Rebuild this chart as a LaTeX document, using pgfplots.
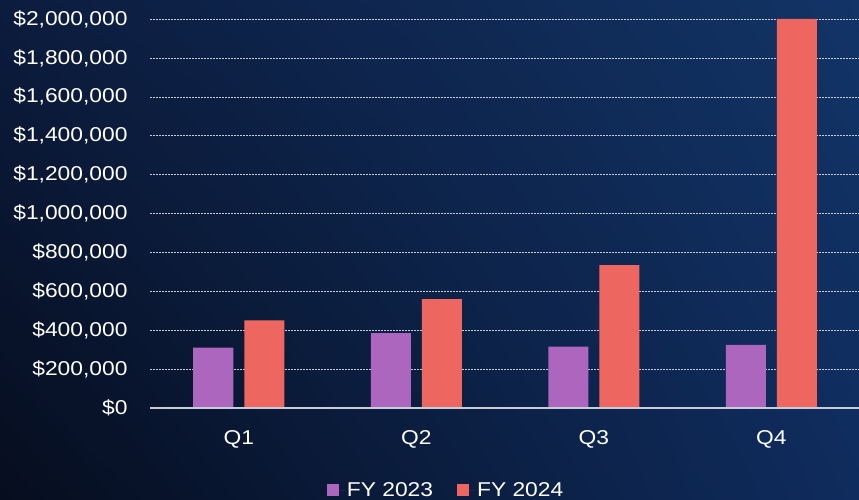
\documentclass[border=0pt]{standalone}
\usepackage{pgfplots}
\pgfplotsset{compat=1.18}
\usetikzlibrary{shadings}
\usepackage{fontspec}
\setmainfont{Liberation Sans}[FakeStretch=1.14]
\definecolor{fyA}{HTML}{AC66BE}
\definecolor{fyB}{HTML}{EE6660}
\definecolor{bgUL}{HTML}{0C1C3E}
\definecolor{bgUR}{HTML}{123466}
\definecolor{bgLL}{HTML}{060D1E}
\definecolor{bgLR}{HTML}{0F2C5E}
\definecolor{gridc}{HTML}{C8CCD6}

\begin{document}
\begin{tikzpicture}
\shade[upper left=bgUL, upper right=bgUR, lower left=bgLL, lower right=bgLR]
    (0pt,0pt) rectangle (859pt,500pt);
\begin{axis}[
    at={(150pt,92pt)}, anchor=south west,
    scale only axis,
    width=710pt, height=389pt,
    ybar, bar width=40pt,
    xmin=-0.5, xmax=3.5,
    ymin=0, ymax=2000000,
    xtick={0,1,2,3},
    xticklabels={Q1,Q2,Q3,Q4},
    ytick={0,200000,...,2000000},
    yticklabel={\$\pgfmathprintnumber[fixed,1000 sep={,}]{\tick}},
    scaled y ticks=false,
    /pgf/number format/assume math mode=true,
    tick label style={font=\fontsize{20}{22}\selectfont, text=white},
    yticklabel style={xshift=-19pt},
    xticklabel style={yshift=-19pt},
    major tick length=0pt,
    axis line style={draw=none},
    ymajorgrids,
    grid style={gridc, line width=0.5pt, dash pattern=on 2pt off 1pt},
    legend style={at={(0.417,-0.211)}, anchor=center, draw=none, fill=none,
        text=white, font=\fontsize{20}{22}\selectfont,
        legend columns=2, column sep=0pt,
        /tikz/every even column/.style={column sep=22pt}},
    legend image code/.code={\fill[#1] (0pt,-6pt) rectangle (12pt,6pt);
        \path (0pt,0pt) -- (18pt,0pt);},
    clip=false,
]
\addplot[draw=none, fill=fyA, bar shift=-25.5pt] coordinates {
    (0,310000) (1,385000) (2,315000) (3,325000)
};
\addplot[draw=none, fill=fyB, bar shift=25.5pt] coordinates {
    (0,450000) (1,560000) (2,735000) (3,2000000)
};
\legend{FY 2023, FY 2024}
\draw[gridc, line width=1.5pt] (axis cs:-0.5,0) -- (axis cs:3.5,0);
\end{axis}
\pgfresetboundingbox
\path[use as bounding box] (0pt,0pt) rectangle (859pt,500pt);
\end{tikzpicture}
\end{document}
